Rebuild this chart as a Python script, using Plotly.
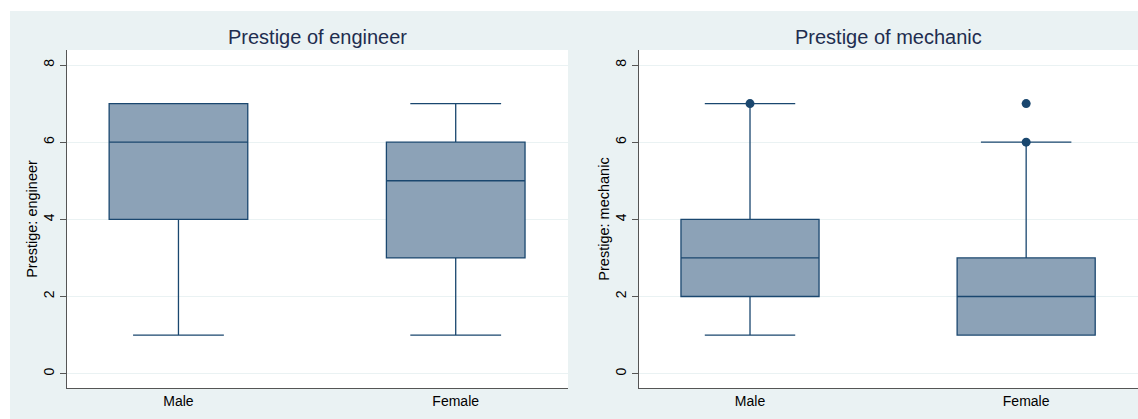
import plotly.graph_objects as go
from plotly.subplots import make_subplots

# Summary statistics for each box (Stata-style box plots)
sexes = ["Male", "Female"]

eng_lower = [1, 1]
eng_q1 = [4, 3]
eng_median = [6, 5]
eng_q3 = [7, 6]
eng_upper = [7, 7]

mech_lower = [1, 1]
mech_q1 = [2, 1]
mech_median = [3, 2]
mech_q3 = [4, 3]
mech_upper = [7, 6]

# Outside values plotted as dots
mech_out_x = ["Male", "Female", "Female"]
mech_out_y = [7, 6, 7]

y_ticks = [0, 2, 4, 6, 8]

NAVY = "#1A476F"
FILL = "#8CA2B7"
REGION = "#EAF2F3"
FONT = "Liberation Sans, Arial, Helvetica, sans-serif"

W, H = 1138, 419

fig = make_subplots(rows=1, cols=2)


def add_box(col, lower, q1, med, q3, upper):
    fig.add_trace(
        go.Box(
            x=sexes,
            lowerfence=lower,
            q1=q1,
            median=med,
            q3=q3,
            upperfence=upper,
            width=0.5,
            whiskerwidth=0.655,
            fillcolor=FILL,
            line=dict(color=NAVY, width=1.3),
            boxpoints=False,
            showlegend=False,
            hoverinfo="skip",
        ),
        row=1,
        col=col,
    )


add_box(1, eng_lower, eng_q1, eng_median, eng_q3, eng_upper)
add_box(2, mech_lower, mech_q1, mech_median, mech_q3, mech_upper)

fig.add_trace(
    go.Scatter(
        x=mech_out_x,
        y=mech_out_y,
        mode="markers",
        marker=dict(color=NAVY, size=9),
        showlegend=False,
        hoverinfo="skip",
    ),
    row=1,
    col=2,
)

px = lambda v: v / W
py = lambda v: (H - v) / H

x_dom1 = [px(67), px(568)]
x_dom2 = [px(639), 1.0]
y_dom = [py(388), py(50)]
y_rng = [-0.371, 8.389]

common_y = dict(
    range=y_rng,
    domain=y_dom,
    tickvals=y_ticks,
    tickangle=-90,
    ticks="outside",
    ticklen=6,
    tickcolor="#555555",
    tickfont=dict(family=FONT, size=14, color="#000000"),
    showgrid=True,
    gridcolor=REGION,
    gridwidth=1,
    zeroline=False,
    showline=True,
    linecolor="#555555",
    linewidth=1,
    automargin=False,
)
common_x = dict(
    type="category",
    categoryarray=sexes,
    categoryorder="array",
    range=[-0.402, 1.405],
    ticks="",
    tickfont=dict(family=FONT, size=14, color="#000000"),
    showgrid=False,
    zeroline=False,
    showline=True,
    linecolor="#555555",
    linewidth=1,
    automargin=False,
)

fig.update_layout(
    xaxis=dict(common_x, domain=x_dom1),
    xaxis2=dict(common_x, domain=x_dom2),
    yaxis=dict(common_y, title=dict(text="Prestige: engineer",
                                    font=dict(family=FONT, size=14.5, color="#000000"),
                                    standoff=0)),
    yaxis2=dict(common_y, title=dict(text="Prestige: mechanic",
                                     font=dict(family=FONT, size=14.5, color="#000000"),
                                     standoff=0)),
)

# Graph region backgrounds: white frame at top/left, light bluish gray panels
fig.update_layout(
    width=W,
    height=H,
    margin=dict(l=0, r=0, t=0, b=0),
    paper_bgcolor=REGION,
    plot_bgcolor="#FFFFFF",
    shapes=[
        dict(type="rect", xref="paper", yref="paper", x0=0, x1=1,
             y0=py(11), y1=1, fillcolor="#FFFFFF", line=dict(width=0), layer="below"),
        dict(type="rect", xref="paper", yref="paper", x0=0, x1=px(10),
             y0=0, y1=1, fillcolor="#FFFFFF", line=dict(width=0), layer="below"),
    ],
    annotations=[
        dict(text="Prestige of engineer", xref="paper", yref="paper",
             x=(x_dom1[0] + x_dom1[1]) / 2, y=py(37), xanchor="center", yanchor="middle",
             showarrow=False, font=dict(family=FONT, size=20, color="#1E2D4F")),
        dict(text="Prestige of mechanic", xref="paper", yref="paper",
             x=(x_dom2[0] + x_dom2[1]) / 2, y=py(37), xanchor="center", yanchor="middle",
             showarrow=False, font=dict(family=FONT, size=20, color="#1E2D4F")),
    ],
)

fig.write_html("out.html")
